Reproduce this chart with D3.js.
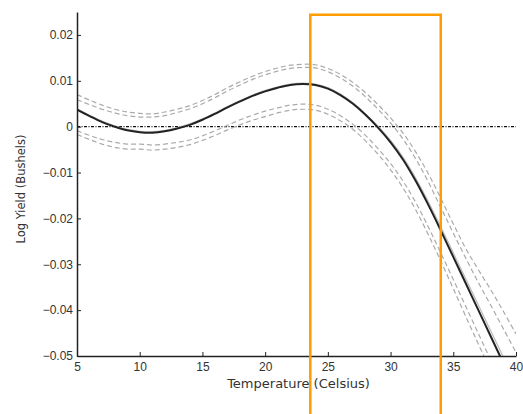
<!DOCTYPE html>
<html>
<head>
<meta charset="utf-8">
<script src="https://cdn.jsdelivr.net/npm/d3@7"></script>
<style>
  body { margin: 0; background: #fff; }
  svg { display: block; font-family: "DejaVu Sans", "Liberation Sans", Arial, sans-serif; }
</style>
</head>
<body>
<svg></svg>
<script>
// size of page and plot area
var width = 523;
var height = 414;
var margin = {top: 12, right: 7, bottom: 58, left: 77};

// temperature grid (Celsius)
var temps = [5, 6, 7, 8, 9, 10, 11, 12, 13, 14, 15, 16, 17, 18, 19, 20, 21, 22,
             23, 24, 25, 26, 27, 28, 29, 30, 31, 32, 33, 34, 35, 36, 37, 38, 39, 40];

// estimated log yield effect
var fit = [0.0037, 0.0023, 0.0010, 0.0000, -0.0008, -0.0012, -0.0013, -0.0010, -0.0004, 0.0004,
           0.0015, 0.0028, 0.0042, 0.0055, 0.0067, 0.0077, 0.0085, 0.0091, 0.0093, 0.0091,
           0.0083, 0.0069, 0.0050, 0.0026, -0.0002, -0.0034, -0.0072, -0.0118, -0.0170, -0.0226,
           -0.0284, -0.0342, -0.0400, -0.0458, -0.0516, -0.0574];

// second (grey) estimate, almost on top of the fit
var fitAlt = [0.0039, 0.0025, 0.0012, 0.0002, -0.0006, -0.0010, -0.0011, -0.0008, -0.0002, 0.0006,
              0.0017, 0.0030, 0.0044, 0.0057, 0.0069, 0.0079, 0.0087, 0.0093, 0.0095, 0.0093,
              0.0085, 0.0071, 0.0052, 0.0028, 0.0001, -0.0030, -0.0067, -0.0112, -0.0163, -0.0218,
              -0.0275, -0.0332, -0.0389, -0.0446, -0.0503, -0.0560];

// confidence bands
var upperOuter = [0.0070, 0.0058, 0.0047, 0.0038, 0.0032, 0.0029, 0.0028, 0.0032, 0.0038, 0.0046,
                  0.0057, 0.0070, 0.0085, 0.0098, 0.0110, 0.0120, 0.0128, 0.0134, 0.0136, 0.0135,
                  0.0127, 0.0114, 0.0096, 0.0074, 0.0048, 0.0019, -0.0014, -0.0055, -0.0102, -0.0156,
                  -0.0212, -0.0266, -0.0312, -0.0356, -0.0403, -0.0452];
var upperInner = [0.0059, 0.0048, 0.0038, 0.0030, 0.0024, 0.0021, 0.0021, 0.0024, 0.0031, 0.0039,
                  0.0050, 0.0063, 0.0078, 0.0091, 0.0103, 0.0113, 0.0121, 0.0127, 0.0129, 0.0128,
                  0.0120, 0.0106, 0.0088, 0.0065, 0.0038, 0.0008, -0.0027, -0.0070, -0.0120, -0.0176,
                  -0.0232, -0.0287, -0.0340, -0.0390, -0.0441, -0.0492];
var lowerInner = [-0.0009, -0.0019, -0.0028, -0.0034, -0.0038, -0.0038, -0.0040, -0.0038, -0.0034, -0.0029,
                  -0.0020, -0.0009, 0.0003, 0.0015, 0.0025, 0.0034, 0.0041, 0.0047, 0.0049, 0.0047,
                  0.0038, 0.0024, 0.0005, -0.0019, -0.0048, -0.0080, -0.0119, -0.0165, -0.0218, -0.0275,
                  -0.0333, -0.0392, -0.0451, -0.0510, -0.0569, -0.0629];
var lowerOuter = [-0.0017, -0.0028, -0.0038, -0.0045, -0.0049, -0.0049, -0.0051, -0.0049, -0.0045, -0.0039,
                  -0.0030, -0.0019, -0.0007, 0.0004, 0.0014, 0.0022, 0.0030, 0.0036, 0.0038, 0.0036,
                  0.0027, 0.0013, -0.0006, -0.0031, -0.0060, -0.0094, -0.0134, -0.0181, -0.0235, -0.0293,
                  -0.0353, -0.0414, -0.0474, -0.0534, -0.0594, -0.0654];

// axis ticks
var xTicks = [5, 10, 15, 20, 25, 30, 35, 40];
var yTicks = [-0.05, -0.04, -0.03, -0.02, -0.01, 0, 0.01, 0.02];

// highlighted temperature window (orange box)
var boxRange = [23.6, 34.0];
var boxTop = 0.0244;

var x = d3.scaleLinear()
    .domain([5, 40])
    .range([margin.left, width - margin.right]);

var y = d3.scaleLinear()
    .domain([-0.05, 0.025])
    .range([height - margin.bottom, margin.top]);

var svg = d3.select("svg")
    .attr("width", width)
    .attr("height", height);

svg.append("clipPath").attr("id", "plot-clip")
  .append("rect")
    .attr("x", margin.left)
    .attr("y", margin.top)
    .attr("width", width - margin.left - margin.right)
    .attr("height", height - margin.top - margin.bottom);

var line = d3.line()
    .x(function(d) { return x(d[0]); })
    .y(function(d) { return y(d[1]); })
    .curve(d3.curveCatmullRom);

function pairs(vals) {
    return temps.map(function(t, i) { return [t, vals[i]]; });
}

var plot = svg.append("g").attr("clip-path", "url(#plot-clip)");

// zero reference line (dash-dot)
plot.append("line")
    .attr("x1", x(5)).attr("x2", x(40))
    .attr("y1", y(0)).attr("y2", y(0))
    .attr("stroke", "#111")
    .attr("stroke-width", 1.3)
    .attr("stroke-dasharray", "3,1.5,1,1.5");

// dashed bands
[upperOuter, upperInner, lowerInner, lowerOuter].forEach(function(b) {
    plot.append("path")
        .datum(pairs(b))
        .attr("d", line)
        .attr("fill", "none")
        .attr("stroke", "#aaa")
        .attr("stroke-width", 1.2)
        .attr("stroke-dasharray", "5,3");
});

plot.append("path")
    .datum(pairs(fitAlt))
    .attr("d", line)
    .attr("fill", "none")
    .attr("stroke", "#bbb")
    .attr("stroke-width", 1.2);

plot.append("path")
    .datum(pairs(fit))
    .attr("d", line)
    .attr("fill", "none")
    .attr("stroke", "#222")
    .attr("stroke-width", 2);

// axes
var xAxis = svg.append("g")
    .attr("transform", "translate(0," + (height - margin.bottom) + ")")
    .call(d3.axisBottom(x).tickValues(xTicks).tickSizeInner(-4).tickSizeOuter(0).tickPadding(5)
        .tickFormat(d3.format("d")));

var yAxis = svg.append("g")
    .attr("transform", "translate(" + margin.left + ",0)")
    .call(d3.axisLeft(y).tickValues(yTicks).tickSizeInner(-4).tickSizeOuter(0).tickPadding(4)
        .tickFormat(function(d) { return d === 0 ? "0" : d3.format(".2f")(d).replace("-", "\u2212"); }));

[xAxis, yAxis].forEach(function(a) {
    a.select(".domain").attr("stroke", "#222").attr("stroke-width", 1.5);
    a.selectAll(".tick line").attr("stroke", "#222");
    a.selectAll(".tick text").attr("fill", "#333").style("font-size", "12px");
});
xAxis.selectAll(".tick text").attr("dy", "0.85em");

// axis titles
svg.append("text")
    .attr("x", (margin.left + width - margin.right) / 2 + 2)
    .attr("y", 388)
    .attr("text-anchor", "middle")
    .attr("fill", "#333")
    .style("font-size", "13px")
    .text("Temperature (Celsius)");

svg.append("text")
    .attr("transform", "translate(25," + 189 + ") rotate(-90)")
    .attr("text-anchor", "middle")
    .attr("fill", "#333")
    .style("font-size", "11.5px")
    .text("Log Yield (Bushels)");

// orange highlight box, open at the bottom
svg.append("path")
    .attr("d", "M" + x(boxRange[0]) + "," + (height + 5) +
               "V" + y(boxTop) +
               "H" + x(boxRange[1]) +
               "V" + (height + 5))
    .attr("fill", "none")
    .attr("stroke", "#ff9c00")
    .attr("stroke-width", 2.5);
</script>
</body>
</html>
